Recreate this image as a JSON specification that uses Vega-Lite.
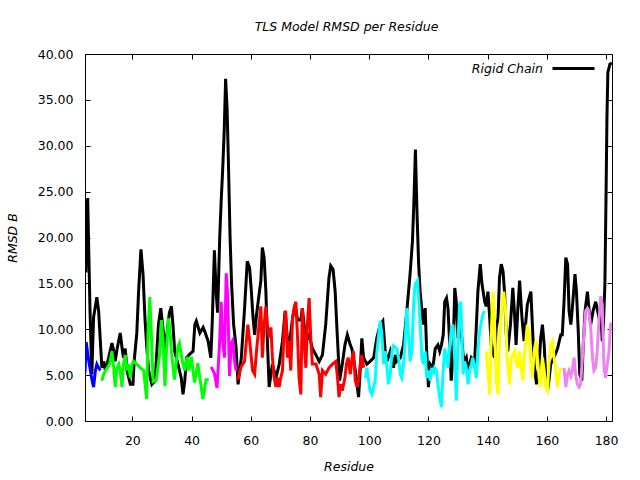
{
  "$schema": "https://vega.github.io/schema/vega-lite/v6.json",
  "width": 527,
  "height": 367,
  "autosize": {"type": "none"},
  "padding": {"left": 85, "top": 54, "right": 28, "bottom": 59},
  "background": "white",
  "title": {"text": "TLS Model RMSD per Residue", "fontStyle": "italic", "fontWeight": "normal", "fontSize": 12.5, "font": "DejaVu Sans", "color": "black", "offset": 13, "dx": -2},
  "config": {
    "view": {"stroke": "black", "strokeWidth": 1},
    "axis": {"domain": false, "grid": false, "tickColor": "black", "tickSize": 5, "tickWidth": 1, "offset": -5, "labelFont": "DejaVu Sans", "labelFontSize": 12.5, "labelColor": "black", "titleFont": "DejaVu Sans", "titleFontSize": 12.5, "titleFontStyle": "italic", "titleFontWeight": "normal", "titleColor": "black"},
    "legend": {"labelFont": "DejaVu Sans", "labelFontSize": 12.5, "labelFontStyle": "italic", "labelColor": "black"}
  },
  "datasets": {
    "rigid": [
      {"r":4,"v":17.2,"s":"Rigid Chain"},{"r":4.3,"v":16.2,"s":"Rigid Chain"},{"r":4.6,"v":22,"s":"Rigid Chain"},{"r":4.9,"v":24.3,"s":"Rigid Chain"},{"r":5.3,"v":18,"s":"Rigid Chain"},{"r":5.7,"v":12,"s":"Rigid Chain"},{"r":6.3,"v":5.1,"s":"Rigid Chain"},{"r":6.9,"v":11.3,"s":"Rigid Chain"},{"r":8,"v":13.5,"s":"Rigid Chain"},{"r":8.6,"v":12,"s":"Rigid Chain"},{"r":9.2,"v":8.6,"s":"Rigid Chain"},{"r":9.7,"v":5.8,"s":"Rigid Chain"},{"r":10.3,"v":6.5,"s":"Rigid Chain"},{"r":10.9,"v":5.5,"s":"Rigid Chain"},{"r":12,"v":6.9,"s":"Rigid Chain"},{"r":13.1,"v":8.5,"s":"Rigid Chain"},{"r":13.6,"v":7.8,"s":"Rigid Chain"},{"r":14.2,"v":6.5,"s":"Rigid Chain"},{"r":14.8,"v":7.8,"s":"Rigid Chain"},{"r":15.9,"v":9.6,"s":"Rigid Chain"},{"r":16.5,"v":8,"s":"Rigid Chain"},{"r":17,"v":6.9,"s":"Rigid Chain"},{"r":17.6,"v":7.9,"s":"Rigid Chain"},{"r":18.2,"v":5.5,"s":"Rigid Chain"},{"r":19.3,"v":4.0,"s":"Rigid Chain"},{"r":20.2,"v":4.0,"s":"Rigid Chain"},{"r":20.6,"v":6.5,"s":"Rigid Chain"},{"r":21.5,"v":9.6,"s":"Rigid Chain"},{"r":22.1,"v":14.1,"s":"Rigid Chain"},{"r":22.9,"v":18.7,"s":"Rigid Chain"},{"r":23.6,"v":16,"s":"Rigid Chain"},{"r":24.3,"v":10.9,"s":"Rigid Chain"},{"r":24.9,"v":7.9,"s":"Rigid Chain"},{"r":25.5,"v":5.5,"s":"Rigid Chain"},{"r":26.6,"v":4.0,"s":"Rigid Chain"},{"r":27.7,"v":4.4,"s":"Rigid Chain"},{"r":28.8,"v":10.5,"s":"Rigid Chain"},{"r":29.6,"v":12.3,"s":"Rigid Chain"},{"r":30.5,"v":9.6,"s":"Rigid Chain"},{"r":31.1,"v":7.6,"s":"Rigid Chain"},{"r":31.7,"v":9.6,"s":"Rigid Chain"},{"r":32.5,"v":11.8,"s":"Rigid Chain"},{"r":33.2,"v":12.5,"s":"Rigid Chain"},{"r":33.7,"v":10.5,"s":"Rigid Chain"},{"r":34.3,"v":7.6,"s":"Rigid Chain"},{"r":35.4,"v":6.2,"s":"Rigid Chain"},{"r":36.5,"v":4.7,"s":"Rigid Chain"},{"r":37.1,"v":2.9,"s":"Rigid Chain"},{"r":37.7,"v":4.4,"s":"Rigid Chain"},{"r":38.3,"v":6.9,"s":"Rigid Chain"},{"r":39.4,"v":7.3,"s":"Rigid Chain"},{"r":40.5,"v":7.6,"s":"Rigid Chain"},{"r":41.1,"v":10.5,"s":"Rigid Chain"},{"r":41.6,"v":10.9,"s":"Rigid Chain"},{"r":42.8,"v":9.6,"s":"Rigid Chain"},{"r":43.9,"v":10.2,"s":"Rigid Chain"},{"r":44.4,"v":9.8,"s":"Rigid Chain"},{"r":45.6,"v":8.7,"s":"Rigid Chain"},{"r":46.5,"v":6.9,"s":"Rigid Chain"},{"r":47,"v":11,"s":"Rigid Chain"},{"r":47.7,"v":18.6,"s":"Rigid Chain"},{"r":48.3,"v":14,"s":"Rigid Chain"},{"r":48.8,"v":11.8,"s":"Rigid Chain"},{"r":49.5,"v":20,"s":"Rigid Chain"},{"r":50,"v":24,"s":"Rigid Chain"},{"r":50.5,"v":27.4,"s":"Rigid Chain"},{"r":51,"v":31.4,"s":"Rigid Chain"},{"r":51.5,"v":37.3,"s":"Rigid Chain"},{"r":52,"v":34,"s":"Rigid Chain"},{"r":52.5,"v":27.4,"s":"Rigid Chain"},{"r":53,"v":20,"s":"Rigid Chain"},{"r":53.5,"v":15,"s":"Rigid Chain"},{"r":54.2,"v":10.5,"s":"Rigid Chain"},{"r":55,"v":8.1,"s":"Rigid Chain"},{"r":55.7,"v":4.0,"s":"Rigid Chain"},{"r":56.8,"v":6.9,"s":"Rigid Chain"},{"r":57.9,"v":12.3,"s":"Rigid Chain"},{"r":58.8,"v":17.4,"s":"Rigid Chain"},{"r":59.6,"v":16.7,"s":"Rigid Chain"},{"r":60.2,"v":14.1,"s":"Rigid Chain"},{"r":60.7,"v":11.5,"s":"Rigid Chain"},{"r":61.3,"v":9.4,"s":"Rigid Chain"},{"r":61.9,"v":11.5,"s":"Rigid Chain"},{"r":62.8,"v":13.8,"s":"Rigid Chain"},{"r":63.4,"v":15.3,"s":"Rigid Chain"},{"r":63.9,"v":18.9,"s":"Rigid Chain"},{"r":64.5,"v":17.8,"s":"Rigid Chain"},{"r":65.1,"v":14.1,"s":"Rigid Chain"},{"r":65.6,"v":8.7,"s":"Rigid Chain"},{"r":66.2,"v":3.7,"s":"Rigid Chain"},{"r":67.3,"v":6.2,"s":"Rigid Chain"},{"r":68.5,"v":4.7,"s":"Rigid Chain"},{"r":69.6,"v":6.2,"s":"Rigid Chain"},{"r":70.7,"v":8.7,"s":"Rigid Chain"},{"r":71.6,"v":12,"s":"Rigid Chain"},{"r":72.4,"v":8.7,"s":"Rigid Chain"},{"r":73,"v":8.3,"s":"Rigid Chain"},{"r":74.1,"v":11.2,"s":"Rigid Chain"},{"r":75,"v":12.7,"s":"Rigid Chain"},{"r":75.8,"v":11,"s":"Rigid Chain"},{"r":76.9,"v":11,"s":"Rigid Chain"},{"r":77.4,"v":12.3,"s":"Rigid Chain"},{"r":78.6,"v":8.7,"s":"Rigid Chain"},{"r":79.7,"v":9.4,"s":"Rigid Chain"},{"r":80.8,"v":7.9,"s":"Rigid Chain"},{"r":82,"v":7.2,"s":"Rigid Chain"},{"r":83.1,"v":6.5,"s":"Rigid Chain"},{"r":84.2,"v":7.2,"s":"Rigid Chain"},{"r":85.3,"v":10.5,"s":"Rigid Chain"},{"r":86.4,"v":15.6,"s":"Rigid Chain"},{"r":87,"v":16.9,"s":"Rigid Chain"},{"r":87.8,"v":16.5,"s":"Rigid Chain"},{"r":88.5,"v":14.1,"s":"Rigid Chain"},{"r":89.2,"v":9.4,"s":"Rigid Chain"},{"r":90,"v":4.4,"s":"Rigid Chain"},{"r":90.9,"v":6.2,"s":"Rigid Chain"},{"r":91.8,"v":8.3,"s":"Rigid Chain"},{"r":92.6,"v":9.4,"s":"Rigid Chain"},{"r":93.6,"v":8.3,"s":"Rigid Chain"},{"r":94.2,"v":7.8,"s":"Rigid Chain"},{"r":95.3,"v":5.5,"s":"Rigid Chain"},{"r":96.4,"v":2.6,"s":"Rigid Chain"},{"r":97,"v":5.8,"s":"Rigid Chain"},{"r":97.5,"v":9,"s":"Rigid Chain"},{"r":98.1,"v":6.9,"s":"Rigid Chain"},{"r":99.2,"v":6.2,"s":"Rigid Chain"},{"r":100.3,"v":6.5,"s":"Rigid Chain"},{"r":101.5,"v":6.9,"s":"Rigid Chain"},{"r":102.6,"v":9.1,"s":"Rigid Chain"},{"r":103.7,"v":10.5,"s":"Rigid Chain"},{"r":104.6,"v":10.9,"s":"Rigid Chain"},{"r":105.4,"v":7.6,"s":"Rigid Chain"},{"r":106,"v":6.5,"s":"Rigid Chain"},{"r":107.1,"v":7.6,"s":"Rigid Chain"},{"r":108.2,"v":5.8,"s":"Rigid Chain"},{"r":108.8,"v":7.2,"s":"Rigid Chain"},{"r":109.3,"v":6.5,"s":"Rigid Chain"},{"r":110.5,"v":6.9,"s":"Rigid Chain"},{"r":111.6,"v":8.3,"s":"Rigid Chain"},{"r":112.7,"v":12,"s":"Rigid Chain"},{"r":113.8,"v":16,"s":"Rigid Chain"},{"r":114.6,"v":19.6,"s":"Rigid Chain"},{"r":115.1,"v":24,"s":"Rigid Chain"},{"r":115.6,"v":29.6,"s":"Rigid Chain"},{"r":116.2,"v":22,"s":"Rigid Chain"},{"r":116.7,"v":17,"s":"Rigid Chain"},{"r":117.2,"v":14.1,"s":"Rigid Chain"},{"r":117.8,"v":12,"s":"Rigid Chain"},{"r":118.3,"v":10.5,"s":"Rigid Chain"},{"r":118.9,"v":12.3,"s":"Rigid Chain"},{"r":119.4,"v":7.6,"s":"Rigid Chain"},{"r":120,"v":3.7,"s":"Rigid Chain"},{"r":120.6,"v":6.2,"s":"Rigid Chain"},{"r":121.5,"v":5.8,"s":"Rigid Chain"},{"r":122.3,"v":7.9,"s":"Rigid Chain"},{"r":123.2,"v":8.3,"s":"Rigid Chain"},{"r":123.8,"v":7.6,"s":"Rigid Chain"},{"r":124.4,"v":8.3,"s":"Rigid Chain"},{"r":125,"v":9.4,"s":"Rigid Chain"},{"r":125.5,"v":13,"s":"Rigid Chain"},{"r":126.1,"v":13.4,"s":"Rigid Chain"},{"r":126.6,"v":12.3,"s":"Rigid Chain"},{"r":127.2,"v":8.3,"s":"Rigid Chain"},{"r":127.7,"v":4.4,"s":"Rigid Chain"},{"r":128.3,"v":7.2,"s":"Rigid Chain"},{"r":128.9,"v":14.5,"s":"Rigid Chain"},{"r":129.4,"v":13,"s":"Rigid Chain"},{"r":130,"v":9,"s":"Rigid Chain"},{"r":130.6,"v":12.7,"s":"Rigid Chain"},{"r":131.1,"v":9.8,"s":"Rigid Chain"},{"r":131.7,"v":7.2,"s":"Rigid Chain"},{"r":132.2,"v":6.5,"s":"Rigid Chain"},{"r":132.8,"v":6.9,"s":"Rigid Chain"},{"r":133.4,"v":5.5,"s":"Rigid Chain"},{"r":134.5,"v":6.9,"s":"Rigid Chain"},{"r":135.6,"v":6.5,"s":"Rigid Chain"},{"r":136.2,"v":10.5,"s":"Rigid Chain"},{"r":136.7,"v":14.1,"s":"Rigid Chain"},{"r":137.5,"v":17.1,"s":"Rigid Chain"},{"r":138.1,"v":14.9,"s":"Rigid Chain"},{"r":139,"v":13,"s":"Rigid Chain"},{"r":139.5,"v":12.5,"s":"Rigid Chain"},{"r":140.1,"v":14.1,"s":"Rigid Chain"},{"r":140.7,"v":11.2,"s":"Rigid Chain"},{"r":141.2,"v":8.3,"s":"Rigid Chain"},{"r":142.3,"v":6.9,"s":"Rigid Chain"},{"r":142.9,"v":10.2,"s":"Rigid Chain"},{"r":143.5,"v":11.2,"s":"Rigid Chain"},{"r":144,"v":15.6,"s":"Rigid Chain"},{"r":144.6,"v":17.1,"s":"Rigid Chain"},{"r":145.2,"v":16.3,"s":"Rigid Chain"},{"r":145.7,"v":14.1,"s":"Rigid Chain"},{"r":146.3,"v":9.4,"s":"Rigid Chain"},{"r":146.8,"v":7.6,"s":"Rigid Chain"},{"r":147.7,"v":10.5,"s":"Rigid Chain"},{"r":148.5,"v":14.5,"s":"Rigid Chain"},{"r":149.1,"v":11.6,"s":"Rigid Chain"},{"r":149.6,"v":8.3,"s":"Rigid Chain"},{"r":150.2,"v":12.3,"s":"Rigid Chain"},{"r":150.8,"v":15.3,"s":"Rigid Chain"},{"r":151.6,"v":11.2,"s":"Rigid Chain"},{"r":152.3,"v":8.7,"s":"Rigid Chain"},{"r":152.8,"v":10.5,"s":"Rigid Chain"},{"r":153.4,"v":12.7,"s":"Rigid Chain"},{"r":154.6,"v":14.1,"s":"Rigid Chain"},{"r":155.1,"v":10.5,"s":"Rigid Chain"},{"r":155.7,"v":6.2,"s":"Rigid Chain"},{"r":156.5,"v":4,"s":"Rigid Chain"},{"r":157.4,"v":6.2,"s":"Rigid Chain"},{"r":157.9,"v":9,"s":"Rigid Chain"},{"r":158.5,"v":10.5,"s":"Rigid Chain"},{"r":159.1,"v":8.3,"s":"Rigid Chain"},{"r":159.6,"v":4.7,"s":"Rigid Chain"},{"r":160.2,"v":3.3,"s":"Rigid Chain"},{"r":160.7,"v":4.4,"s":"Rigid Chain"},{"r":161.3,"v":6.2,"s":"Rigid Chain"},{"r":162.4,"v":6.9,"s":"Rigid Chain"},{"r":163.6,"v":7.9,"s":"Rigid Chain"},{"r":164.7,"v":9.4,"s":"Rigid Chain"},{"r":165.2,"v":9.4,"s":"Rigid Chain"},{"r":165.8,"v":13,"s":"Rigid Chain"},{"r":166.4,"v":17.8,"s":"Rigid Chain"},{"r":167,"v":17.1,"s":"Rigid Chain"},{"r":167.5,"v":12,"s":"Rigid Chain"},{"r":168.1,"v":10.5,"s":"Rigid Chain"},{"r":168.6,"v":12.3,"s":"Rigid Chain"},{"r":169.5,"v":16,"s":"Rigid Chain"},{"r":170,"v":14.1,"s":"Rigid Chain"},{"r":170.6,"v":9.8,"s":"Rigid Chain"},{"r":171.1,"v":5.1,"s":"Rigid Chain"},{"r":171.8,"v":4.4,"s":"Rigid Chain"},{"r":172.2,"v":7.6,"s":"Rigid Chain"},{"r":172.9,"v":12,"s":"Rigid Chain"},{"r":173.7,"v":14.1,"s":"Rigid Chain"},{"r":174.2,"v":12.3,"s":"Rigid Chain"},{"r":174.8,"v":10.5,"s":"Rigid Chain"},{"r":175.6,"v":12,"s":"Rigid Chain"},{"r":176.5,"v":13,"s":"Rigid Chain"},{"r":177.4,"v":11.6,"s":"Rigid Chain"},{"r":178.2,"v":12.3,"s":"Rigid Chain"},{"r":178.7,"v":8.7,"s":"Rigid Chain"},{"r":179.1,"v":10.5,"s":"Rigid Chain"},{"r":179.6,"v":14.9,"s":"Rigid Chain"},{"r":180,"v":25,"s":"Rigid Chain"},{"r":180.3,"v":33.2,"s":"Rigid Chain"},{"r":180.6,"v":38,"s":"Rigid Chain"},{"r":181.3,"v":38.9,"s":"Rigid Chain"},{"r":182,"v":39,"s":"Rigid Chain"}
    ],
    "tls": [
      {"r":4,"v":5.3,"g":"A"},{"r":4.4,"v":8.6,"g":"A"},{"r":4.8,"v":7.6,"g":"A"},{"r":5.3,"v":6.5,"g":"A"},{"r":6.4,"v":4.4,"g":"A"},{"r":6.9,"v":3.7,"g":"A"},{"r":7.5,"v":5.5,"g":"A"},{"r":8,"v":6.2,"g":"A"},{"r":8.6,"v":5.8,"g":"A"},{"r":9.2,"v":5.5,"g":"A"},
      {"r":9.7,"v":4.4,"g":"B"},{"r":10.3,"v":5.1,"g":"B"},{"r":10.9,"v":5.5,"g":"B"},{"r":11.5,"v":5.8,"g":"B"},{"r":12.3,"v":6.2,"g":"B"},{"r":13.1,"v":7.6,"g":"B"},{"r":13.7,"v":5.8,"g":"B"},{"r":14.2,"v":3.7,"g":"B"},{"r":14.8,"v":5.8,"g":"B"},{"r":15.4,"v":6.2,"g":"B"},{"r":15.9,"v":5.5,"g":"B"},{"r":16.5,"v":3.7,"g":"B"},{"r":17,"v":6.2,"g":"B"},{"r":17.6,"v":7.2,"g":"B"},{"r":18.2,"v":5.5,"g":"B"},{"r":18.7,"v":6.2,"g":"B"},{"r":19.3,"v":4.7,"g":"B"},{"r":19.9,"v":6.2,"g":"B"},{"r":20.4,"v":6.5,"g":"B"},{"r":21.5,"v":6.2,"g":"B"},{"r":22.7,"v":5.8,"g":"B"},{"r":23.8,"v":5.5,"g":"B"},{"r":24.3,"v":4.0,"g":"B"},{"r":24.8,"v":2.4,"g":"B"},{"r":25.3,"v":9.8,"g":"B"},{"r":25.9,"v":13.5,"g":"B"},{"r":26.4,"v":9.5,"g":"B"},{"r":27,"v":4.3,"g":"B"},{"r":28.1,"v":4.5,"g":"B"},{"r":29.3,"v":7.6,"g":"B"},{"r":29.8,"v":11,"g":"B"},{"r":30.4,"v":8.6,"g":"B"},{"r":31,"v":3.8,"g":"B"},{"r":31.5,"v":7.6,"g":"B"},{"r":32.1,"v":11.2,"g":"B"},{"r":32.6,"v":10.3,"g":"B"},{"r":33.2,"v":7.5,"g":"B"},{"r":34.2,"v":4.5,"g":"B"},{"r":35.4,"v":8.1,"g":"B"},{"r":35.9,"v":8.5,"g":"B"},{"r":37,"v":6.3,"g":"B"},{"r":37.7,"v":5.5,"g":"B"},{"r":38.5,"v":7,"g":"B"},{"r":39.1,"v":5.5,"g":"B"},{"r":39.9,"v":7,"g":"B"},{"r":41,"v":4.2,"g":"B"},{"r":42.1,"v":6.3,"g":"B"},{"r":43.2,"v":3.8,"g":"B"},{"r":43.8,"v":2.4,"g":"B"},{"r":44.9,"v":4.5,"g":"B"},{"r":45.8,"v":4.5,"g":"B"},
      {"r":46.6,"v":5.9,"g":"C"},{"r":47.7,"v":5.2,"g":"C"},{"r":48.6,"v":3.6,"g":"C"},{"r":49.4,"v":8.1,"g":"C"},{"r":50,"v":13,"g":"C"},{"r":50.5,"v":8.8,"g":"C"},{"r":51.1,"v":6.9,"g":"C"},{"r":51.7,"v":16.1,"g":"C"},{"r":52.2,"v":13.6,"g":"C"},{"r":52.8,"v":4.9,"g":"C"},{"r":53.4,"v":8.5,"g":"C"},{"r":53.9,"v":8.8,"g":"C"},{"r":54.5,"v":6.6,"g":"C"},{"r":55,"v":5.5,"g":"C"},
      {"r":55.6,"v":4.5,"g":"D"},{"r":56.7,"v":5.9,"g":"D"},{"r":57.9,"v":6.5,"g":"D"},{"r":59,"v":10.5,"g":"D"},{"r":59.6,"v":8.8,"g":"D"},{"r":60.6,"v":5.5,"g":"D"},{"r":61.3,"v":5.1,"g":"D"},{"r":62,"v":7.9,"g":"D"},{"r":62.8,"v":10.5,"g":"D"},{"r":63.4,"v":12.5,"g":"D"},{"r":63.9,"v":6.9,"g":"D"},{"r":64.5,"v":10.5,"g":"D"},{"r":65.1,"v":12.5,"g":"D"},{"r":65.6,"v":10.5,"g":"D"},{"r":66.2,"v":9.1,"g":"D"},{"r":66.8,"v":10.2,"g":"D"},{"r":67.3,"v":6.9,"g":"D"},{"r":67.9,"v":4.7,"g":"D"},{"r":68.5,"v":3.7,"g":"D"},{"r":69,"v":4.7,"g":"D"},{"r":69.6,"v":3.7,"g":"D"},{"r":70.1,"v":4.7,"g":"D"},{"r":70.7,"v":5.5,"g":"D"},{"r":71.3,"v":10.5,"g":"D"},{"r":71.8,"v":12,"g":"D"},{"r":72.4,"v":6.9,"g":"D"},{"r":72.9,"v":8.7,"g":"D"},{"r":73.5,"v":5.5,"g":"D"},{"r":74.1,"v":11.2,"g":"D"},{"r":74.6,"v":12.3,"g":"D"},{"r":75.2,"v":13,"g":"D"},{"r":75.8,"v":9.1,"g":"D"},{"r":76.3,"v":4.7,"g":"D"},{"r":76.9,"v":2.9,"g":"D"},{"r":77.4,"v":12.3,"g":"D"},{"r":78,"v":8.7,"g":"D"},{"r":78.6,"v":5.8,"g":"D"},{"r":79.1,"v":10.5,"g":"D"},{"r":79.7,"v":13.4,"g":"D"},{"r":80.3,"v":8.7,"g":"D"},{"r":80.8,"v":6.2,"g":"D"},{"r":82,"v":6.2,"g":"D"},{"r":83.1,"v":5.1,"g":"D"},{"r":83.6,"v":2.6,"g":"D"},{"r":84.2,"v":5.5,"g":"D"},{"r":85.3,"v":5.1,"g":"D"},{"r":86.4,"v":5.8,"g":"D"},{"r":87.6,"v":6.2,"g":"D"},{"r":88.7,"v":6.5,"g":"D"},{"r":89.3,"v":4.7,"g":"D"},{"r":89.8,"v":2.6,"g":"D"},{"r":90.4,"v":4,"g":"D"},{"r":90.9,"v":3.3,"g":"D"},{"r":91.8,"v":4.7,"g":"D"},{"r":92.3,"v":6.2,"g":"D"},{"r":92.9,"v":6.9,"g":"D"},{"r":93.6,"v":5.1,"g":"D"},{"r":94.2,"v":6.9,"g":"D"},{"r":94.7,"v":7.6,"g":"D"},{"r":95.3,"v":4.4,"g":"D"},{"r":95.9,"v":3.7,"g":"D"},{"r":96.4,"v":4.4,"g":"D"},{"r":97,"v":6.2,"g":"D"},{"r":97.5,"v":7.2,"g":"D"},{"r":98.1,"v":5.8,"g":"D"},
      {"r":98.7,"v":4.7,"g":"E"},{"r":99.2,"v":5.8,"g":"E"},{"r":99.8,"v":4.4,"g":"E"},{"r":100.3,"v":3.3,"g":"E"},{"r":100.9,"v":2.9,"g":"E"},{"r":101.5,"v":3.7,"g":"E"},{"r":102,"v":4.4,"g":"E"},{"r":102.6,"v":7.6,"g":"E"},{"r":103.2,"v":9.4,"g":"E"},{"r":103.7,"v":10.9,"g":"E"},{"r":104.3,"v":9.4,"g":"E"},{"r":104.8,"v":6.2,"g":"E"},{"r":105.4,"v":7.6,"g":"E"},{"r":106,"v":5.8,"g":"E"},{"r":106.5,"v":4,"g":"E"},{"r":107.1,"v":5.1,"g":"E"},{"r":107.7,"v":7.6,"g":"E"},{"r":108.2,"v":8.2,"g":"E"},{"r":109.3,"v":7.9,"g":"E"},{"r":109.9,"v":6.9,"g":"E"},{"r":110.5,"v":5.1,"g":"E"},{"r":111,"v":4.7,"g":"E"},{"r":111.6,"v":6.2,"g":"E"},{"r":112.1,"v":8.7,"g":"E"},{"r":112.7,"v":12.3,"g":"E"},{"r":113.3,"v":9.4,"g":"E"},{"r":113.8,"v":6.5,"g":"E"},{"r":114.4,"v":7.6,"g":"E"},{"r":115,"v":12.7,"g":"E"},{"r":115.5,"v":14.9,"g":"E"},{"r":116.3,"v":15.3,"g":"E"},{"r":116.9,"v":12.3,"g":"E"},{"r":117.4,"v":9.4,"g":"E"},{"r":117.8,"v":6.9,"g":"E"},{"r":118.3,"v":6.2,"g":"E"},{"r":118.9,"v":7.6,"g":"E"},{"r":119.4,"v":4.7,"g":"E"},{"r":120,"v":5.5,"g":"E"},{"r":120.6,"v":4.4,"g":"E"},{"r":121.1,"v":5.8,"g":"E"},{"r":121.7,"v":5.1,"g":"E"},{"r":122.1,"v":5.8,"g":"E"},{"r":122.7,"v":5.5,"g":"E"},{"r":123.2,"v":4,"g":"E"},{"r":123.8,"v":2.6,"g":"E"},{"r":124.4,"v":1.5,"g":"E"},{"r":124.9,"v":5.1,"g":"E"},{"r":125.5,"v":7.9,"g":"E"},{"r":126.1,"v":6.9,"g":"E"},{"r":126.6,"v":5.8,"g":"E"},{"r":127.2,"v":8.3,"g":"E"},{"r":127.7,"v":9.8,"g":"E"},{"r":128.3,"v":10.5,"g":"E"},{"r":128.9,"v":6.5,"g":"E"},{"r":129.4,"v":2.2,"g":"E"},{"r":129.9,"v":7.6,"g":"E"},{"r":130.5,"v":12.7,"g":"E"},{"r":130.9,"v":13,"g":"E"},{"r":131.3,"v":9.4,"g":"E"},{"r":131.7,"v":5.1,"g":"E"},{"r":132.2,"v":6.5,"g":"E"},{"r":132.8,"v":5.8,"g":"E"},{"r":133.4,"v":4,"g":"E"},{"r":133.9,"v":5.5,"g":"E"},{"r":134.5,"v":6.2,"g":"E"},{"r":135,"v":6.9,"g":"E"},{"r":135.6,"v":5.8,"g":"E"},{"r":136.2,"v":4.7,"g":"E"},{"r":136.7,"v":7.6,"g":"E"},{"r":137.3,"v":9.8,"g":"E"},{"r":137.9,"v":10.9,"g":"E"},{"r":138.4,"v":11.6,"g":"E"},{"r":139,"v":12,"g":"E"},
      {"r":139.5,"v":7.6,"g":"F"},{"r":140.1,"v":5.5,"g":"F"},{"r":140.7,"v":2.9,"g":"F"},{"r":141.2,"v":9.4,"g":"F"},{"r":141.8,"v":14.1,"g":"F"},{"r":142.3,"v":10.9,"g":"F"},{"r":142.9,"v":4.4,"g":"F"},{"r":143.5,"v":2.9,"g":"F"},{"r":144,"v":8.7,"g":"F"},{"r":144.6,"v":11.6,"g":"F"},{"r":145.4,"v":14.1,"g":"F"},{"r":146,"v":12.3,"g":"F"},{"r":146.6,"v":6.9,"g":"F"},{"r":147.4,"v":4,"g":"F"},{"r":148,"v":6.9,"g":"F"},{"r":148.5,"v":7.2,"g":"F"},{"r":149.1,"v":7.6,"g":"F"},{"r":149.6,"v":6.5,"g":"F"},{"r":150.2,"v":5.8,"g":"F"},{"r":150.8,"v":7.6,"g":"F"},{"r":151.3,"v":5.8,"g":"F"},{"r":151.9,"v":4.4,"g":"F"},{"r":152.3,"v":6.9,"g":"F"},{"r":152.9,"v":8.7,"g":"F"},{"r":153.4,"v":10.5,"g":"F"},{"r":154,"v":9.4,"g":"F"},{"r":154.6,"v":6.2,"g":"F"},{"r":155.1,"v":4.7,"g":"F"},{"r":155.7,"v":7.6,"g":"F"},{"r":156.3,"v":8.7,"g":"F"},{"r":156.8,"v":6.9,"g":"F"},{"r":157.4,"v":4.7,"g":"F"},{"r":157.9,"v":3.7,"g":"F"},{"r":158.5,"v":6.9,"g":"F"},{"r":159.1,"v":5.5,"g":"F"},{"r":159.6,"v":3.7,"g":"F"},{"r":160.2,"v":3.3,"g":"F"},{"r":160.7,"v":6.2,"g":"F"},{"r":161.3,"v":8.3,"g":"F"},{"r":161.9,"v":8.7,"g":"F"},{"r":162.4,"v":7,"g":"F"},{"r":163,"v":5.5,"g":"F"},{"r":163.6,"v":3.7,"g":"F"},{"r":164.1,"v":5.1,"g":"F"},{"r":164.7,"v":5.8,"g":"F"},
      {"r":165.8,"v":5.8,"g":"G"},{"r":166.4,"v":3.7,"g":"G"},{"r":167,"v":5.1,"g":"G"},{"r":167.5,"v":5.5,"g":"G"},{"r":168.1,"v":4.9,"g":"G"},{"r":168.6,"v":5.5,"g":"G"},{"r":169.2,"v":6.9,"g":"G"},{"r":169.7,"v":5.1,"g":"G"},{"r":170.3,"v":4,"g":"G"},{"r":170.9,"v":3.7,"g":"G"},{"r":171.4,"v":4,"g":"G"},{"r":172,"v":6.9,"g":"G"},{"r":172.5,"v":9.4,"g":"G"},{"r":173.1,"v":12,"g":"G"},{"r":173.7,"v":12.3,"g":"G"},{"r":174.2,"v":12,"g":"G"},{"r":174.8,"v":10.2,"g":"G"},{"r":175.4,"v":6.9,"g":"G"},{"r":175.9,"v":5.5,"g":"G"},{"r":176.5,"v":5.8,"g":"G"},{"r":177,"v":7.6,"g":"G"},{"r":177.6,"v":10.9,"g":"G"},{"r":178.2,"v":13.6,"g":"G"},{"r":178.7,"v":12.7,"g":"G"},{"r":179.3,"v":5.8,"g":"G"},{"r":179.8,"v":4.7,"g":"G"},{"r":180.4,"v":6.2,"g":"G"},{"r":181,"v":7.6,"g":"G"},{"r":181.5,"v":10.5,"g":"G"},{"r":182,"v":10.7,"g":"G"}
    ]
  },
  "layer": [
    {
      "data": {"name": "rigid"},
      "mark": {"type": "line", "strokeWidth": 3, "strokeJoin": "miter", "clip": true},
      "encoding": {
        "x": {"field": "r", "type": "quantitative", "scale": {"domain": [4, 182], "nice": false, "zero": false}, "axis": {"orient": "bottom", "values": [20,40,60,80,100,120,140,160,180], "title": "Residue", "labelPadding": 13, "titlePadding": 14}},
        "y": {"field": "v", "type": "quantitative", "scale": {"domain": [0, 40], "nice": false}, "axis": {"orient": "left", "values": [0,5,10,15,20,25,30,35,40], "format": ".2f", "title": "RMSD B", "labelPadding": 12, "titlePadding": 18}},
        "stroke": {"field": "s", "type": "nominal", "scale": {"range": ["black"]}, "legend": {"title": null, "orient": "none", "legendX": 466, "legendY": -8, "symbolType": "stroke", "symbolStrokeWidth": 3, "symbolSize": 1764, "labelAlign": "right", "labelOffset": -53, "symbolOffset": 0}}
      }
    },
    {
      "data": {"name": "tls"},
      "mark": {"type": "line", "strokeWidth": 3, "strokeJoin": "miter", "clip": true},
      "encoding": {
        "x": {"field": "r", "type": "quantitative", "axis": {"orient": "top", "values": [20,40,60,80,100,120,140,160,180], "labels": false, "title": null}},
        "y": {"field": "v", "type": "quantitative", "axis": {"orient": "right", "values": [0,5,10,15,20,25,30,35,40], "labels": false, "title": null}},
        "color": {"field": "g", "type": "nominal", "scale": {"domain": ["A","B","C","D","E","F","G"], "range": ["#0000ff","#00ff00","#ff00ff","#ff0000","#00ffff","#ffff00","#ee82ee"]}, "legend": null}
      }
    }
  ],
  "resolve": {"axis": {"x": "independent", "y": "independent"}}
}
